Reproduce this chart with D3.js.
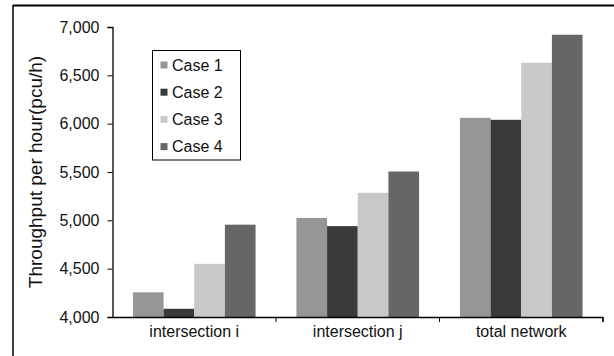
<!DOCTYPE html>
<html><head><meta charset="utf-8">
<script src="https://cdn.jsdelivr.net/npm/d3@7"></script>
<style>
html,body{margin:0;padding:0;background:#fff;}
svg{display:block;font-family:"Liberation Sans",Arial,sans-serif;}
</style></head>
<body><svg id="c" width="614" height="356"></svg>
<script>
const categories = ["intersection i", "intersection j", "total network"];
const seriesNames = ["Case 1", "Case 2", "Case 3", "Case 4"];
const case1 = [4255, 5025, 6060];
const case2 = [4085, 4940, 6040];
const case3 = [4550, 5285, 6630];
const case4 = [4955, 5505, 6920];
const yTicks = [4000, 4500, 5000, 5500, 6000, 6500, 7000];
const colors = ["#969696", "#3a3a3a", "#c8c8c8", "#666666"];
const yLabel = "Throughput per hour(pcu/h)";

const series = [case1, case2, case3, case4];
const svg = d3.select("#c");
const L = 112.5, R = 603, T = 27, B = 317;

// outer frame (top and left only visible)
svg.append("line").attr("x1", 13).attr("x2", 614).attr("y1", 5.5).attr("y2", 5.5)
  .attr("stroke", "#000").attr("stroke-width", 2);
svg.append("line").attr("x1", 13).attr("x2", 13).attr("y1", 5).attr("y2", 356)
  .attr("stroke", "#000").attr("stroke-width", 1.5);

const x0 = d3.scaleBand().domain(categories).range([L, R]).paddingInner(0.25).paddingOuter(0.125);
const x1 = d3.scaleBand().domain(d3.range(seriesNames.length)).range([0, x0.bandwidth()]).padding(0);
const y = d3.scaleLinear().domain([4000, 7000]).range([B, T]);

// bars
const g = svg.append("g");
categories.forEach((c, ci) => {
  series.forEach((s, si) => {
    g.append("rect")
      .attr("x", x0(c) + x1(si))
      .attr("width", x1.bandwidth())
      .attr("y", y(s[ci]))
      .attr("height", y(4000) - y(s[ci]))
      .attr("fill", colors[si]);
  });
});

// y axis
const ya = svg.append("g").attr("transform", `translate(${L},0)`)
  .call(d3.axisLeft(y).tickValues(yTicks).tickFormat(d3.format(",")).tickSize(5).tickPadding(8));
ya.select(".domain").attr("stroke", "#000").attr("stroke-width", 1.3);
ya.selectAll(".tick line").attr("stroke", "#000");
ya.selectAll("text").attr("font-size", 16).attr("fill", "#111")
  .attr("font-family", "Liberation Sans, Arial, sans-serif");

// x axis
const xa = svg.append("g").attr("transform", `translate(0,${B})`)
  .call(d3.axisBottom(x0).tickSize(0).tickPadding(9));
xa.select(".domain").attr("stroke", "#000").attr("stroke-width", 1.3)
  .attr("d", `M${L},0.5H${R}V5`);
xa.selectAll("text").attr("font-size", 16).attr("fill", "#111")
  .attr("font-family", "Liberation Sans, Arial, sans-serif");
// category boundary ticks
const step = x0.step();
const bounds = categories.map((c, i) => L + step * (i + 1));
xa.selectAll(".bt").data(bounds).enter().append("line")
  .attr("x1", d => d).attr("x2", d => d).attr("y1", 0).attr("y2", 5)
  .attr("stroke", "#000").attr("stroke-width", 1);

// y label
svg.append("text")
  .attr("transform", `translate(42,${(T + B) / 2}) rotate(-90)`)
  .attr("text-anchor", "middle")
  .attr("font-size", 19).attr("fill", "#111")
  .text(yLabel);

// legend
const lg = svg.append("g");
lg.append("rect").attr("x", 152.5).attr("y", 50.5).attr("width", 88).attr("height", 109.5)
  .attr("fill", "#fff").attr("stroke", "#000").attr("stroke-width", 1);
seriesNames.forEach((n, i) => {
  const cy = 65 + i * 27.2;
  lg.append("rect").attr("x", 160.5).attr("y", cy - 3.5).attr("width", 7).attr("height", 7)
    .attr("fill", colors[i]);
  lg.append("text").attr("x", 172).attr("y", cy).attr("dy", "0.36em")
    .attr("font-size", 16).attr("fill", "#111").text(n);
});
</script>
</body></html>
